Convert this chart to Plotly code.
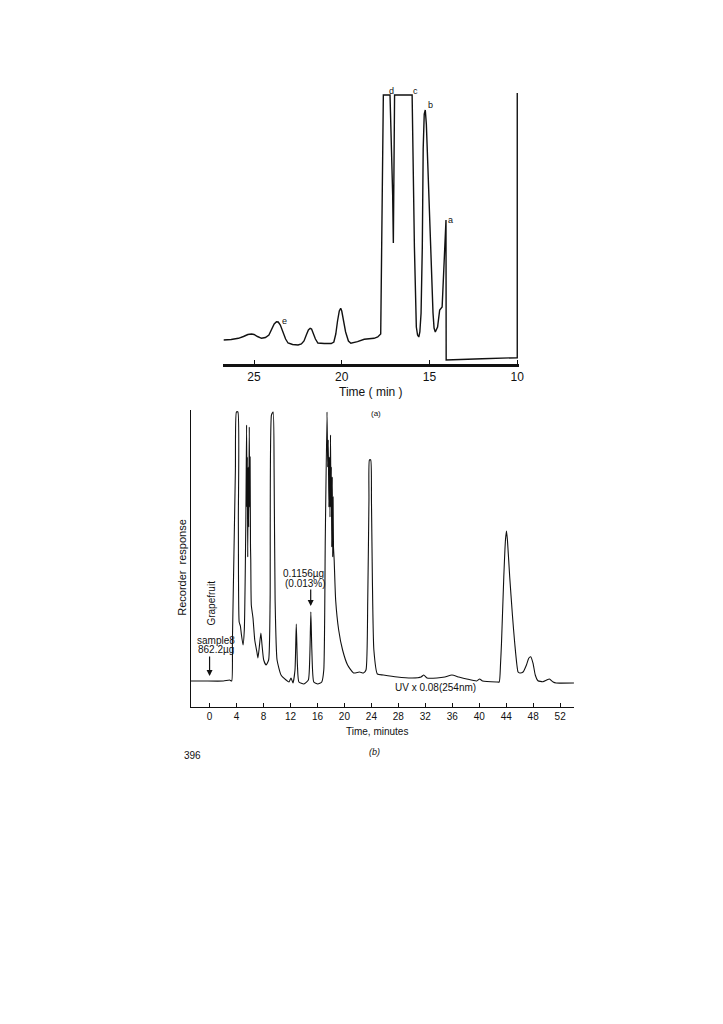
import plotly.graph_objects as go

# page offset of the plot div (default body margin) and figure size
OX, OY = 8, 8
W, H = 707, 1000

# ---------------- Chart (a) data: time (min), response ----------------
a_time = [10.0, 10.0, 12.0, 14.05, 14.06, 14.16, 14.28, 14.42, 14.54, 14.67, 14.74, 14.80, 14.95,
          15.10, 15.18, 15.24, 15.30, 15.36, 15.41, 15.48, 15.55, 15.61, 15.68, 15.75, 15.86,
          15.93, 15.99, 16.99, 17.04, 17.06, 17.10, 17.25, 17.63, 17.70, 17.78, 17.95, 18.16,
          18.72, 19.10, 19.48, 19.62, 19.78, 19.90, 20.00, 20.06, 20.14, 20.24, 20.34, 20.45,
          20.60, 21.00, 21.36, 21.50, 21.62, 21.72, 21.80, 21.90, 22.02, 22.15, 22.30, 22.49,
          22.80, 23.06, 23.20, 23.35, 23.50, 23.62, 23.72, 23.85, 24.00, 24.15, 24.35, 24.57,
          24.80, 25.00, 25.14, 25.35, 25.60, 25.89, 26.30, 26.74]
a_resp = [271, 6.3, 5.3, 4, 144, 104, 57, 54, 37, 32, 36, 51, 117,
          201, 240, 254, 250, 215, 117, 51, 32, 27, 29, 37, 117,
          217, 269, 269, 160, 121, 170, 269, 269, 150, 30, 27, 25.7,
          24.7, 22.3, 20.7, 23, 32, 45, 53, 55.7, 53, 43, 30, 22,
          20.5, 20.5, 21, 25, 31, 35, 35.7, 34, 29, 23, 20, 19,
          19.5, 21, 25, 32, 39, 42, 42.3, 40, 34, 29, 26.5, 25.7,
          27.5, 29.5, 30, 29.5, 27.5, 25.7, 24.5, 24]
a_ticks = [25, 20, 15, 10]
a_peak_labels = ["a", "b", "c", "d", "e"]
a_peak_t = [13.80, 14.93, 15.78, 17.19, 23.29]
a_peak_y = [144, 259, 273, 273, 43]

# ---------------- Chart (b) data: time (minutes), recorder response ----------------
b_time = [-2.80, -0.88, 2.06, 2.95, 3.28, 3.39, 3.83, 3.98, 4.20, 4.27, 4.39, 4.57, 4.71,
          4.96, 5.15, 5.38, 5.49, 5.55, 5.60, 5.66, 5.72, 5.80, 5.89, 5.95, 6.01, 6.07,
          6.11, 6.19, 6.44, 6.70,
          7.02, 7.17, 7.36, 7.61, 7.78, 8.03, 8.39, 8.76, 8.98, 9.18, 9.43, 9.57, 9.72,
          10.01, 10.60, 11.34, 11.78, 12.08, 12.37, 12.67, 12.86, 13.03, 13.25, 13.99,
          14.65, 14.87, 15.02, 15.17, 15.46, 16.05, 16.64, 16.94, 17.16, 17.42, 17.52,
          17.60, 17.70, 17.78, 17.86, 17.94, 18.00, 18.06, 18.12, 18.20, 18.26, 18.32,
          18.38, 18.48, 18.70, 19.15, 19.73,
          20.47, 21.35, 22.24, 22.83, 23.20, 23.46, 23.64, 23.71, 23.90, 24.01, 24.15,
          24.37, 24.89, 25.77, 27.84, 30.04, 31.37, 31.77, 32.25, 33.73, 34.90, 35.94,
          36.97, 38.14, 39.62, 40.06, 40.50, 42.56, 42.96, 43.15, 43.30, 43.64, 43.89,
          44.04, 44.18, 44.52, 44.92, 45.26, 45.76, 46.02, 46.50, 47.00, 47.34, 47.63,
          47.98, 48.31, 48.71, 49.44, 50.00, 50.41, 50.96, 51.40, 54.05]
b_resp = [26, 26, 26, 27, 26, 67, 237, 295, 295, 187, 85, 81, 73,
          62, 77, 187, 282, 200, 250, 150, 240, 180, 280, 200, 250, 160,
          147, 102, 89, 67,
          55, 49, 59, 74, 62, 47, 42, 47, 107, 292, 295, 237, 107,
          47, 32, 27, 25, 29, 24, 37, 83, 42, 25, 23,
          27, 52, 95, 57, 25, 23, 25, 37, 167, 295, 240,
          267, 200, 250, 190, 272, 200, 240, 160, 230, 150, 210,
          160, 147, 107, 77, 57,
          42, 34, 35, 34, 37, 107, 207, 247, 247, 207, 127,
          57, 33, 32, 30, 29, 30, 32, 29, 29, 30, 32,
          30, 28, 26, 28, 26, 25, 25, 42, 64, 130, 167,
          176, 167, 130, 92, 64, 35, 34, 35, 42, 48.7, 50.3,
          43.7, 32, 26.3, 25.3, 27, 28, 25, 24, 24]
b_ticks = [0, 4, 8, 12, 16, 20, 24, 28, 32, 36, 40, 44, 48, 52]

FONT = "Liberation Sans, Arial, sans-serif"


def px(x):
    return (x - OX) / W


def py(y):
    return 1 - (y - OY) / H


fig = go.Figure()
fig.add_trace(go.Scatter(x=a_time, y=a_resp, mode="lines", xaxis="x", yaxis="y",
                         line=dict(color="#111", width=1.4), hoverinfo="skip"))
fig.add_trace(go.Scatter(x=b_time, y=b_resp, mode="lines", xaxis="x2", yaxis="y2",
                         line=dict(color="#111", width=1.1, shape="spline", smoothing=0.5),
                         hoverinfo="skip"))

ann = []
for lab, t, yv in zip(a_peak_labels, a_peak_t, a_peak_y):
    ann.append(dict(x=t, y=yv, xref="x", yref="y", text=lab, showarrow=False,
                    font=dict(size=9, family=FONT, color="#111"), xanchor="center", yanchor="middle"))


def txt(x, y, s, size=10, angle=0, italic=False, anchor="center"):
    if italic:
        s = "<i>" + s + "</i>"
    ann.append(dict(x=px(x), y=py(y), xref="paper", yref="paper", text=s, showarrow=False,
                    textangle=angle, font=dict(size=size, family=FONT, color="#111"),
                    xanchor=anchor, yanchor="middle"))


txt(374, 392, "Time ( min )", size=12)
txt(379, 413, "(a)", size=8)
txt(183, 567, "Recorder  response", size=11, angle=-90)
txt(212, 603, "Grapefruit", size=10, angle=-90)
txt(217, 640, "sample8", size=10)
txt(217, 649, "862.2µg", size=10)
txt(306, 573, "0.1156µg", size=10)
txt(308, 583, "(0.013%)", size=10)
txt(439, 687, "UV x 0.08(254nm)", size=10)
txt(380, 731, "Time, minutes", size=10)
txt(377, 752, "(b)", size=9, italic=True)
txt(194, 755, "396", size=10)

ann.append(dict(x=0, y=31, xref="x2", yref="y2", ax=0, ay=-21, text="", showarrow=True,
                arrowhead=2, arrowsize=1, arrowwidth=1.2, arrowcolor="#111"))
ann.append(dict(x=15, y=101, xref="x2", yref="y2", ax=0, ay=-18, text="", showarrow=True,
                arrowhead=2, arrowsize=1, arrowwidth=1.2, arrowcolor="#111"))

fig.update_layout(
    width=W, height=H, margin=dict(l=0, r=0, t=0, b=0),
    paper_bgcolor="white", plot_bgcolor="white", showlegend=False,
    annotations=ann,
    xaxis=dict(domain=[px(225), px(523)], range=[26.74, 9.88], showgrid=False, zeroline=False,
               showline=True, linecolor="#111", linewidth=2.5, tickvals=a_ticks,
               ticks="inside", ticklen=4, tickcolor="#111", tickwidth=1,
               tickfont=dict(size=12, family=FONT, color="#111"), anchor="y"),
    yaxis=dict(domain=[py(364), py(84)], range=[0, 280], visible=False, anchor="x"),
    xaxis2=dict(domain=[px(192), px(578)], range=[-2.80, 54.05], showgrid=False, zeroline=False,
                showline=True, linecolor="#111", linewidth=1.4, tickvals=b_ticks,
                ticks="inside", ticklen=4, tickcolor="#111", tickwidth=1,
                tickfont=dict(size=10, family=FONT, color="#111"), anchor="y2"),
    yaxis2=dict(domain=[py(707), py(410)], range=[0, 297], showgrid=False, zeroline=False,
                showline=True, linecolor="#111", linewidth=1.4, showticklabels=False,
                ticks="", anchor="x2"),
)

fig.write_html("out.html")
